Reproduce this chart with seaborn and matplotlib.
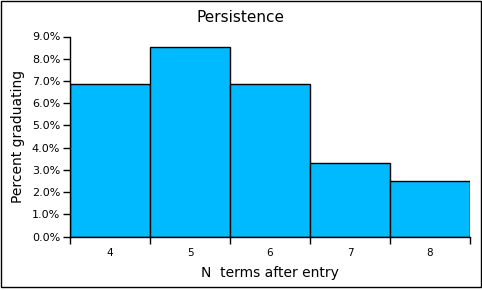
import matplotlib
matplotlib.use("Agg")
import matplotlib.pyplot as plt
import matplotlib.patches as mpatches
from matplotlib.ticker import PercentFormatter, FixedLocator
import seaborn as sns
import pandas as pd

terms = ["4", "5", "6", "7", "8"]
pct_graduating = [0.0686, 0.0851, 0.0686, 0.0330, 0.0252]

sns.set_theme(style="ticks")
plt.rcParams["font.family"] = ["DejaVu Sans"]

df = pd.DataFrame({"terms": terms, "pct": pct_graduating})

fig = plt.figure(figsize=(4.82, 2.90), dpi=100)
ax = fig.add_axes([70/482, 1-236.7/290, 400/482, 200.2/290])

sns.barplot(data=df, x="terms", y="pct", ax=ax, color="#00BAFF", saturation=1,
            width=1.0, edgecolor="black", linewidth=1.0)

ax.set_xlim(-0.5, len(terms) - 0.5)
ax.set_ylim(0, 0.09)
ax.yaxis.set_major_locator(FixedLocator([i/100 for i in range(10)]))
ax.yaxis.set_major_formatter(PercentFormatter(1.0, decimals=1))
ax.xaxis.set_minor_locator(FixedLocator([i - 0.5 for i in range(len(terms) + 1)]))
ax.tick_params(axis="x", which="major", length=0, labelsize=7.5, pad=8, colors="black")
ax.tick_params(axis="x", which="minor", length=5, width=1, color="black")
ax.tick_params(axis="y", which="major", length=5, width=1, labelsize=8, pad=2, colors="black")

for s in ["top", "right"]:
    ax.spines[s].set_visible(False)
for s in ["left", "bottom"]:
    ax.spines[s].set_color("black")
    ax.spines[s].set_linewidth(1)

ax.set_xlabel("N  terms after entry", fontsize=10, color="black", labelpad=6)
ax.set_ylabel("Percent graduating", fontsize=10, color="black", labelpad=5)
fig.text(240/482, 1-17/290, "Persistence", ha="center", va="center", fontsize=11, color="black")

fig.patches.append(mpatches.Rectangle((0.5/482, 3/290), 480/482, 286/290, transform=fig.transFigure,
                                      fill=False, edgecolor="black", linewidth=1.0))

fig.savefig("out.png", dpi=100, facecolor="white")
